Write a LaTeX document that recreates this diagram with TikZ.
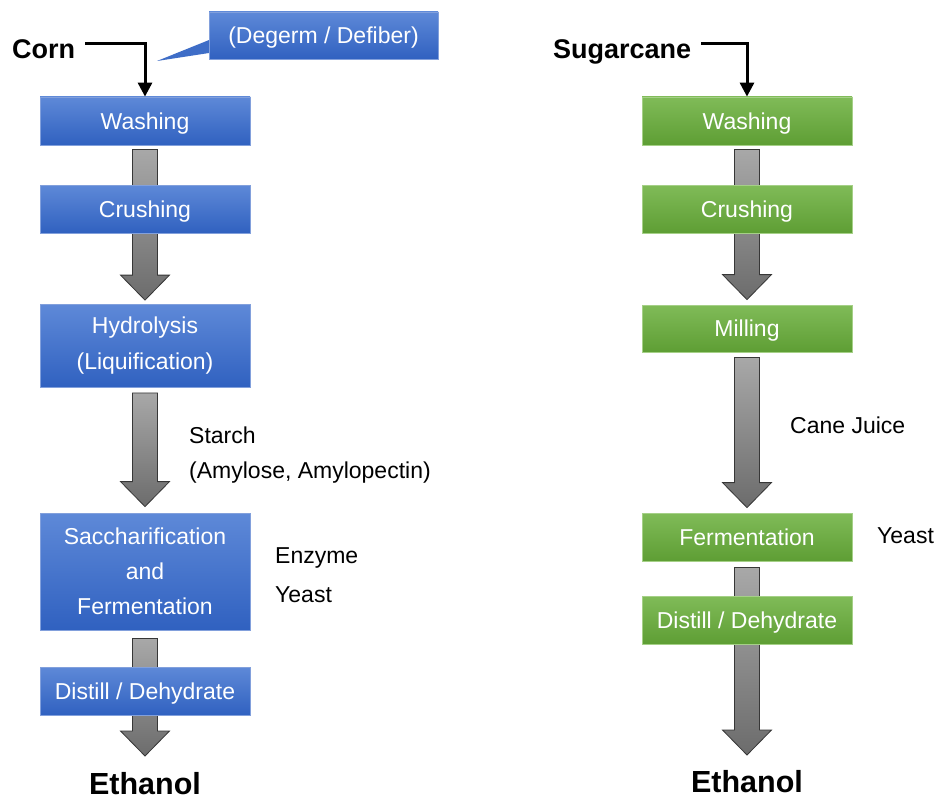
\documentclass[tikz,border=0pt]{standalone}
\usepackage{fontspec}
\setmainfont{Liberation Sans}
\usetikzlibrary{calc,arrows.meta}
\definecolor{btop}{RGB}{94,137,216}
\definecolor{bbot}{RGB}{48,97,192}
\definecolor{bedge}{RGB}{130,160,220}
\definecolor{gtop}{RGB}{128,187,88}
\definecolor{gbot}{RGB}{94,158,52}
\definecolor{gedge}{RGB}{165,208,135}
\definecolor{atop}{RGB}{168,168,168}
\definecolor{abot}{RGB}{108,108,108}
\definecolor{aedge}{RGB}{55,55,55}
\pgfdeclarelayer{bg}
\pgfsetlayers{bg,main}
\tikzset{
 box/.style={minimum width=210pt, minimum height=48pt, inner sep=0pt, text=white,
   font=\fontsize{23}{27}\selectfont, line width=0.8pt},
 one/.style={text height=16.5pt, text depth=0pt},
 bluebox/.style={box, draw=bedge, top color=btop, bottom color=bbot},
 greenbox/.style={box, draw=gedge, top color=gtop, bottom color=gbot},
 lbl/.style={anchor=base west, inner sep=0pt, font=\fontsize{23}{27}\selectfont},
 src/.style={anchor=base west, inner sep=0pt, font=\bfseries\fontsize{27}{30}\selectfont},
 prod/.style={inner sep=0pt, text depth=0pt, font=\bfseries\fontsize{30.5}{34}\selectfont},
 feed/.style={line width=3pt, -{Triangle[length=14pt,width=14pt]}},
 garrow/.style={draw=aedge, line width=0.8pt, top color=atop, bottom color=abot, line join=miter},
}
\newcommand\blockarr[2]{%
 \path[garrow] let \p1=(#1), \p2=(#2) in
 (\x1-12.5pt,\y1) -- (\x1-12.5pt,\y2+25pt) -- (\x1-24.5pt,\y2+25pt) -- (\x1,\y2)
 -- (\x1+24.5pt,\y2+25pt) -- (\x1+12.5pt,\y2+25pt) -- (\x1+12.5pt,\y1) -- cycle;}
\begin{document}
\begin{tikzpicture}[x=1pt,y=-1pt]
\useasboundingbox (0,0) rectangle (938,800);
% left column
\node[bluebox,one] (lw) at (145,121) {Washing};
\node[bluebox,one] (lc) at (145,209) {Crushing};
\node[bluebox,minimum height=83pt,align=center,font=\fontsize{23}{36}\selectfont] (lh) at (145,346) {Hydrolysis\\(Liquification)};
\node[bluebox,minimum height=117pt,align=center,font=\fontsize{23}{35}\selectfont] (ls) at (145,571.5) {Saccharification\\and\\Fermentation};
\node[bluebox,one] (ld) at (145,691) {Distill / Dehydrate};
\node[prod] (le) at (145,783) {Ethanol};
\coordinate (ltip) at (145,756);
\node[bluebox,one,minimum width=229pt,minimum height=47pt] (dg) at (323.5,35.5) {(Degerm / Defiber)};
\coordinate (ptip) at (157,61);
\node[src] (corn) at (12,59) {Corn};
\node[lbl] (st1) at (189,443) {Starch};
\node[lbl] (st2) at (189,478) {(Amylose, Amylopectin)};
\node[lbl] (enz) at (275,563) {Enzyme};
\node[lbl] (ly) at (275,602) {Yeast};
% right column
\node[greenbox,one] (rw) at (747,121) {Washing};
\node[greenbox,one] (rc) at (747,209) {Crushing};
\node[greenbox,one,minimum height=47pt] (rm) at (747,328.5) {Milling};
\node[greenbox,one] (rf) at (747,537) {Fermentation};
\node[greenbox,one] (rd) at (747,620) {Distill / Dehydrate};
\node[prod] (re) at (747,781) {Ethanol};
\coordinate (rtip) at (747,755);
\node[src] (sug) at (553,59) {Sugarcane};
\node[lbl] (cj) at (790,433) {Cane Juice};
\node[lbl] (ry) at (877,543) {Yeast};
% connectors
\begin{pgfonlayer}{bg}
\fill[white] (0,0) rectangle (938,800);
\blockarr{$(lw.south)+(0,4)$}{$(lh.north)+(0,-4)$}
\blockarr{$(lh.south)+(0,5)$}{$(ls.north)+(0,-6)$}
\blockarr{$(ls.south)+(0,8)$}{ltip}
\blockarr{$(rw.south)+(0,4)$}{$(rm.north)+(0,-5)$}
\blockarr{$(rm.south)+(0,5)$}{$(rf.north)+(0,-5)$}
\blockarr{$(rf.south)+(0,6)$}{rtip}
\fill[bbot!70!btop] ($(dg.west)+(0.5,4.5)$) -- (ptip) -- ($(dg.west)+(0.5,17.5)$) -- cycle;
\end{pgfonlayer}
\draw[feed] ([shift={(10,-15)}]corn.base east) -| (lw.north);
\draw[feed] ([shift={(10,-15)}]sug.base east) -| (rw.north);
\end{tikzpicture}
\end{document}
